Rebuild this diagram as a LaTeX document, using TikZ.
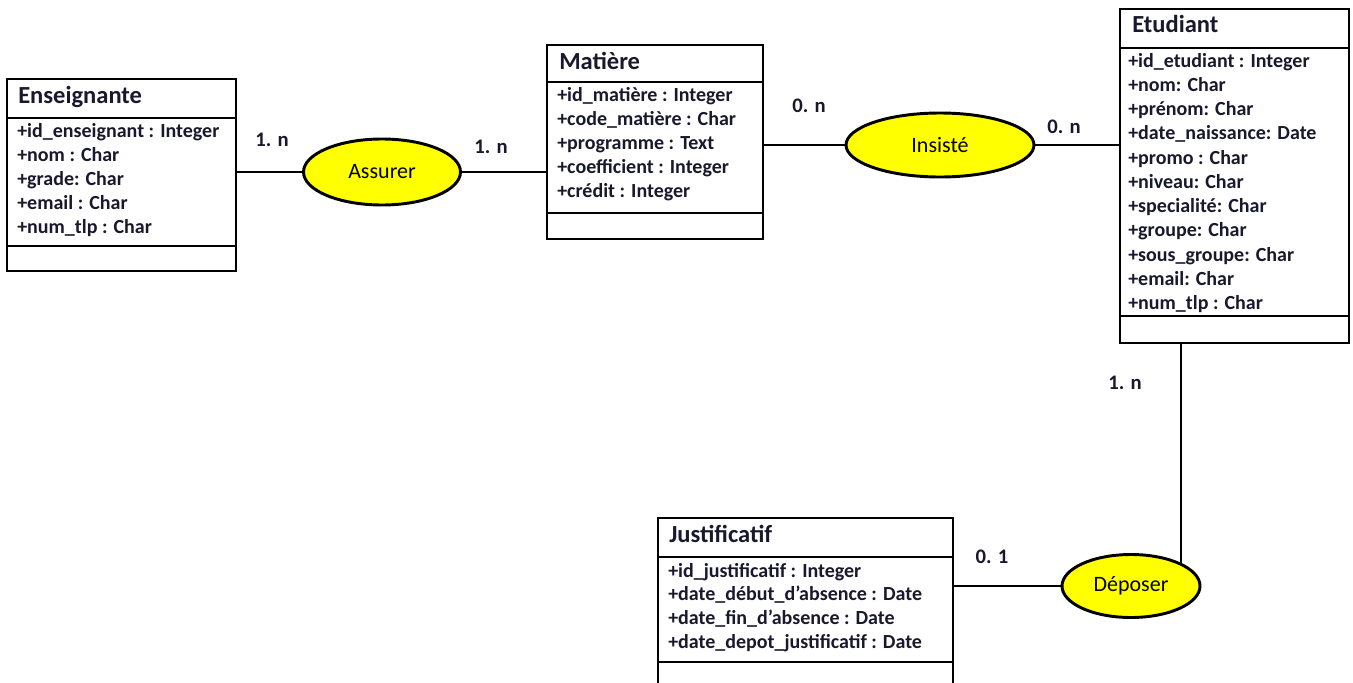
\documentclass[tikz,border=0pt]{standalone}
\usepackage{fontspec}
\setmainfont{Carlito}
\usetikzlibrary{shapes.geometric}
\definecolor{txt}{RGB}{25,25,45}
\definecolor{ellfill}{RGB}{255,255,0}
\begin{document}
\begin{tikzpicture}[x=0.75pt,y=-0.75pt,
  classbox/.style={draw=black,line width=1.3pt,fill=white,inner sep=0pt,rectangle},
  sep/.style={draw=black,line width=1.3pt},
  ttl/.style={anchor=mid west,inner sep=0pt,text=txt,font=\fontsize{18.4pt}{20pt}\selectfont\bfseries},
  attr/.style={anchor=mid west,inner sep=0pt,text=txt,font=\fontsize{15pt}{17pt}\selectfont\bfseries},
  rel/.style={ellipse,draw=black,line width=2.2pt,fill=ellfill,inner sep=0pt,text=black,font=\fontsize{16.5pt}{18pt}\selectfont},
  card/.style={inner sep=0pt,text=txt,font=\fontsize{15.5pt}{17pt}\selectfont\bfseries},
  link/.style={draw=black,line width=1.1pt}]
\clip (0,0) rectangle (1353,682);
\fill[white] (0,0) rectangle (1353,682);

% class boxes
\node[classbox,minimum width={229*0.75pt},minimum height={192*0.75pt}] (ens) at (121.5,175) {};
\node[classbox,minimum width={216*0.75pt},minimum height={194*0.75pt}] (mat) at (655,142) {};
\node[classbox,minimum width={229*0.75pt},minimum height={334*0.75pt}] (etu) at (1234.5,176) {};
\node[classbox,minimum width={295*0.75pt},minimum height={170*0.75pt}] (jus) at (805.5,603) {};

% separators
\draw[sep] (7,118) -- (236,118);
\draw[sep] (7,246) -- (236,246);
\draw[sep] (547,82) -- (763,82);
\draw[sep] (547,213) -- (763,213);
\draw[sep] (1120,48) -- (1349,48);
\draw[sep] (1120,316) -- (1349,316);
\draw[sep] (658,557) -- (953,557);
\draw[sep] (658,662) -- (953,662);

% titles
\node[ttl] (ens-t) at (18,100) {Enseignante};
\node[ttl] (mat-t) at (559,66) {Matière};
\node[ttl] (etu-t) at (1132,29) {Etudiant};
\node[ttl] (jus-t) at (669,539) {Justificatif};

% attributes
\foreach \t [count=\i from 0] in {{+id\_enseignant : Integer},{+nom : Char},{+grade: Char},{+email : Char},{+num\_tlp : Char}}
  \node[attr] (ens-a\i) at (17,{134+24*\i}) {\t};
\foreach \t [count=\i from 0] in {{+id\_matière : Integer},{+code\_matière : Char},{+programme  : Text},{+coefficient : Integer},{+crédit : Integer}}
  \node[attr] (mat-a\i) at (557,{98+24.2*\i}) {\t};
\foreach \t [count=\i from 0] in {{+id\_etudiant : Integer},{+nom: Char},{+prénom: Char},{+date\_naissance: Date},{+promo : Char},{+niveau: Char},{+specialité: Char},{+groupe: Char},{+sous\_groupe: Char},{+email: Char},{+num\_tlp : Char}}
  \node[attr] (etu-a\i) at (1128,{64+24.25*\i}) {\t};
\foreach \t [count=\i from 0] in {{+id\_justificatif : Integer},{+date\_début\_d’absence : Date},{+date\_fin\_d’absence : Date},{+date\_depot\_justificatif : Date}}
  \node[attr] (jus-a\i) at (668,{574+23.7*\i}) {\t};

% relations
\node[rel,minimum width={157*0.75pt},minimum height={66*0.75pt}] (ass) at (382,172) {Assurer};
\node[rel,minimum width={188*0.75pt},minimum height={64*0.75pt}] (ins) at (940,145) {Insisté};
\node[rel,minimum width={138*0.75pt},minimum height={63*0.75pt}] (dep) at (1131,586) {Déposer};

% connectors
\draw[link] (ass.west) -- (ass.west -| ens.east);
\draw[link] (ass.east) -- (ass.east -| mat.west);
\draw[link] (ins.west) -- (ins.west -| mat.east);
\draw[link] (ins.east) -- (ins.east -| etu.west);
\draw[link] (dep.25) -- (dep.25 |- etu.south);
\draw[link] (dep.west) -- (dep.west -| jus.east);

% cardinalities
\node[card] (c1) at (272,140) {1. n};
\node[card] (c2) at (491,147) {1. n};
\node[card] (c3) at (809,106) {0. n};
\node[card] (c4) at (1064,127) {0. n};
\node[card] (c5) at (1125,383) {1. n};
\node[card] (c6) at (992,557) {0. 1};
\end{tikzpicture}
\end{document}
